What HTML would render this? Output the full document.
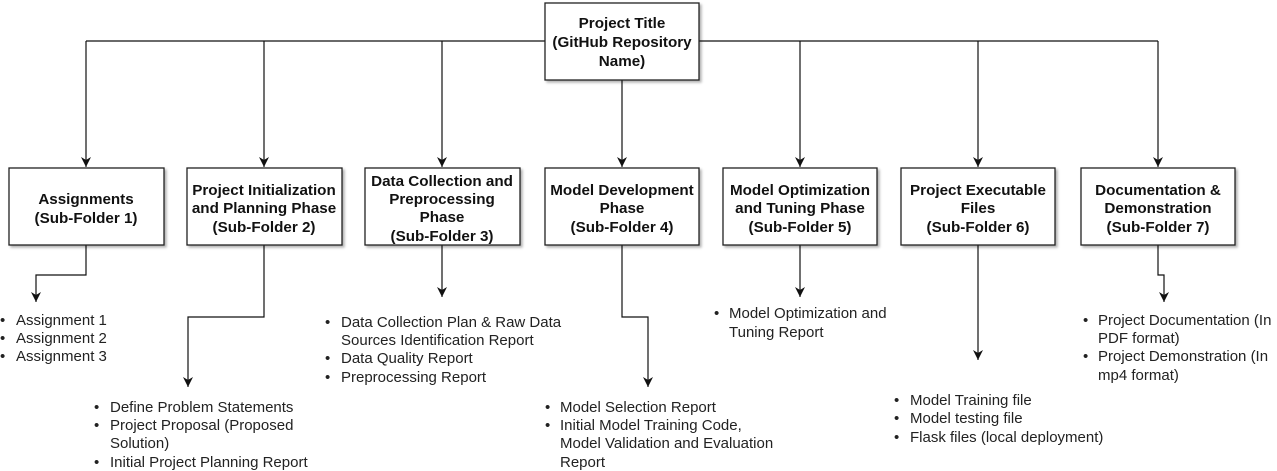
<!DOCTYPE html>
<html><head><meta charset="utf-8"><style>
html,body{margin:0;padding:0;background:#fff;}
svg{display:block;}
.b{font-family:"Liberation Sans",Arial,sans-serif;font-weight:bold;font-size:15.2px;fill:#111;text-anchor:middle;}
.t{font-family:"Liberation Sans",Arial,sans-serif;font-size:15px;fill:#222;}
</style></head><body>
<svg width="1277" height="471" viewBox="0 0 1277 471" xmlns="http://www.w3.org/2000/svg">
<defs>
<filter id="sh" x="-10%" y="-10%" width="130%" height="130%"><feDropShadow dx="2" dy="2" stdDeviation="1.2" flood-color="#000" flood-opacity="0.3"/></filter>
<marker id="ar" markerWidth="12" markerHeight="12" refX="10" refY="5" orient="auto" markerUnits="userSpaceOnUse"><path d="M0,0 L10,5 L0,10 L3,5 Z" fill="#111"/></marker>
</defs>
<g stroke="#111" stroke-width="1.2" fill="none">
<path d="M86,41 H1158"/>
<path d="M86,41 V167" marker-end="url(#ar)"/>
<path d="M264,41 V167" marker-end="url(#ar)"/>
<path d="M442,41 V167" marker-end="url(#ar)"/>
<path d="M622,80 V167" marker-end="url(#ar)"/>
<path d="M800,41 V167" marker-end="url(#ar)"/>
<path d="M978,41 V167" marker-end="url(#ar)"/>
<path d="M1158,41 V167" marker-end="url(#ar)"/>
<path d="M86,245 V275 H36 V302" marker-end="url(#ar)"/>
<path d="M264,245 V317 H188 V387" marker-end="url(#ar)"/>
<path d="M442,245 V297" marker-end="url(#ar)"/>
<path d="M622,245 V317 H648 V387" marker-end="url(#ar)"/>
<path d="M800,245 V297" marker-end="url(#ar)"/>
<path d="M978,245 V360" marker-end="url(#ar)"/>
<path d="M1158,245 V275 H1164 V302" marker-end="url(#ar)"/>
</g>
<g fill="#fff" stroke="#222" stroke-width="1.3" filter="url(#sh)">
<rect x="545" y="3" width="154" height="77"/>
<rect x="9" y="168" width="155" height="77"/>
<rect x="187" y="168" width="155" height="77"/>
<rect x="365" y="168" width="155" height="77"/>
<rect x="545" y="168" width="154" height="77"/>
<rect x="723" y="168" width="154" height="77"/>
<rect x="901" y="168" width="154" height="77"/>
<rect x="1081" y="168" width="154" height="77"/>
</g>
<text class="b"><tspan x="622" y="28">Project Title</tspan><tspan x="622" y="47">(GitHub Repository</tspan><tspan x="622" y="66">Name)</tspan></text>
<text class="b"><tspan x="86" y="204">Assignments</tspan><tspan x="86" y="223">(Sub-Folder 1)</tspan></text>
<text class="b"><tspan x="264" y="195">Project Initialization</tspan><tspan x="264" y="213">and Planning Phase</tspan><tspan x="264" y="232">(Sub-Folder 2)</tspan></text>
<text class="b"><tspan x="442" y="186">Data Collection and</tspan><tspan x="442" y="204">Preprocessing</tspan><tspan x="442" y="222">Phase</tspan><tspan x="442" y="241">(Sub-Folder 3)</tspan></text>
<text class="b"><tspan x="622" y="195">Model Development</tspan><tspan x="622" y="213">Phase</tspan><tspan x="622" y="232">(Sub-Folder 4)</tspan></text>
<text class="b"><tspan x="800" y="195">Model Optimization</tspan><tspan x="800" y="213">and Tuning Phase</tspan><tspan x="800" y="232">(Sub-Folder 5)</tspan></text>
<text class="b"><tspan x="978" y="195">Project Executable</tspan><tspan x="978" y="213">Files</tspan><tspan x="978" y="232">(Sub-Folder 6)</tspan></text>
<text class="b"><tspan x="1158" y="195">Documentation &amp;</tspan><tspan x="1158" y="213">Demonstration</tspan><tspan x="1158" y="232">(Sub-Folder 7)</tspan></text>
<text class="t"><tspan x="0" y="325">•</tspan><tspan x="16" y="325">Assignment 1</tspan><tspan x="0" y="343">•</tspan><tspan x="16" y="343">Assignment 2</tspan><tspan x="0" y="361">•</tspan><tspan x="16" y="361">Assignment 3</tspan></text>
<text class="t"><tspan x="94" y="412">•</tspan><tspan x="110" y="412">Define Problem Statements</tspan><tspan x="94" y="430">•</tspan><tspan x="110" y="430">Project Proposal (Proposed</tspan><tspan x="110" y="448">Solution)</tspan><tspan x="94" y="467">•</tspan><tspan x="110" y="467">Initial Project Planning Report</tspan></text>
<text class="t"><tspan x="325" y="327">•</tspan><tspan x="341" y="327">Data Collection Plan &amp; Raw Data</tspan><tspan x="341" y="345">Sources Identification Report</tspan><tspan x="325" y="363">•</tspan><tspan x="341" y="363">Data Quality Report</tspan><tspan x="325" y="382">•</tspan><tspan x="341" y="382">Preprocessing Report</tspan></text>
<text class="t"><tspan x="545" y="412">•</tspan><tspan x="560" y="412">Model Selection Report</tspan><tspan x="545" y="430">•</tspan><tspan x="560" y="430">Initial Model Training Code,</tspan><tspan x="560" y="448">Model Validation and Evaluation</tspan><tspan x="560" y="467">Report</tspan></text>
<text class="t"><tspan x="714" y="318">•</tspan><tspan x="729" y="318">Model Optimization and</tspan><tspan x="729" y="337">Tuning Report</tspan></text>
<text class="t"><tspan x="894" y="405">•</tspan><tspan x="910" y="405">Model Training file</tspan><tspan x="894" y="423">•</tspan><tspan x="910" y="423">Model testing file</tspan><tspan x="894" y="442">•</tspan><tspan x="910" y="442">Flask files (local deployment)</tspan></text>
<text class="t"><tspan x="1083" y="325">•</tspan><tspan x="1098" y="325">Project Documentation (In</tspan><tspan x="1098" y="343">PDF format)</tspan><tspan x="1083" y="361">•</tspan><tspan x="1098" y="361">Project Demonstration (In</tspan><tspan x="1098" y="380">mp4 format)</tspan></text>
</svg>
</body></html>
